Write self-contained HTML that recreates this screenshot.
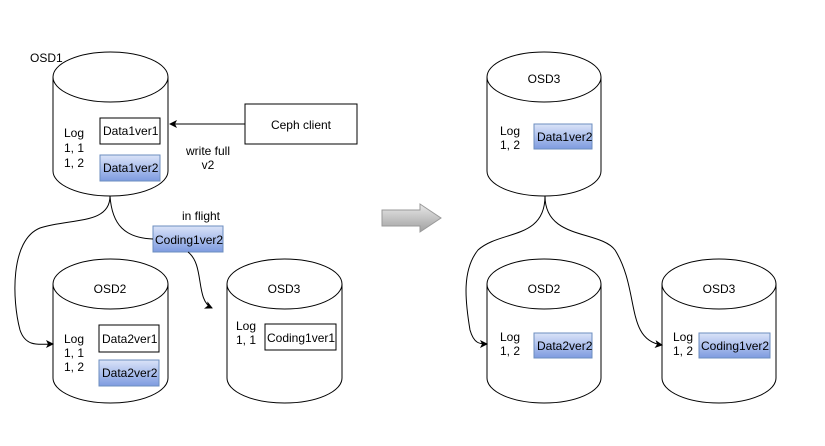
<!DOCTYPE html>
<html><head><style>body{margin:0;background:#fff}svg{display:block}text{font-family:"Liberation Sans",sans-serif;font-size:12px;fill:#000}</style></head><body>
<svg width="825" height="446" xmlns="http://www.w3.org/2000/svg">
<defs>
<linearGradient id="g" x1="0" y1="0" x2="0" y2="1"><stop offset="0" stop-color="#dae3f8"/><stop offset="1" stop-color="#7e9be0"/></linearGradient>
<marker id="a" markerWidth="8" markerHeight="8" refX="7" refY="4" orient="auto" markerUnits="userSpaceOnUse"><path d="M0,0 L8,4 L0,8 L2,4 Z" fill="#000"/></marker>
<linearGradient id="ga" x1="0" y1="0" x2="0" y2="1"><stop offset="0" stop-color="#e8e8e8"/><stop offset="1" stop-color="#a0a0a0"/></linearGradient>
</defs>
<g fill="#fff" stroke="#000" stroke-width="1">
<!-- cylinders: x, top, w, h -->
<path d="M53,77 a57.5,25 0 0 1 115,0 v94 a57.5,25 0 0 1 -115,0 Z"/><path d="M53,77 a57.5,25 0 0 0 115,0" fill="none"/>
<path d="M53,284 a57.5,25 0 0 1 115,0 v94 a57.5,25 0 0 1 -115,0 Z"/><path d="M53,284 a57.5,25 0 0 0 115,0" fill="none"/>
<path d="M227,284 a57.5,25 0 0 1 115,0 v94 a57.5,25 0 0 1 -115,0 Z"/><path d="M227,284 a57.5,25 0 0 0 115,0" fill="none"/>
<path d="M487,77 a57,25 0 0 1 114,0 v94 a57,25 0 0 1 -114,0 Z"/><path d="M487,77 a57,25 0 0 0 114,0" fill="none"/>
<path d="M487,284 a57,25 0 0 1 114,0 v94 a57,25 0 0 1 -114,0 Z"/><path d="M487,284 a57,25 0 0 0 114,0" fill="none"/>
<path d="M662,284 a57,25 0 0 1 114,0 v94 a57,25 0 0 1 -114,0 Z"/><path d="M662,284 a57,25 0 0 0 114,0" fill="none"/>
<rect x="245" y="104" width="112" height="40"/>
<rect x="100" y="118" width="60" height="26"/>
<rect x="99" y="325" width="60" height="27"/>
<rect x="265" y="324" width="71" height="26"/>
</g>
<g fill="url(#g)" stroke="#6c8ebf">
<rect x="100" y="155" width="60" height="26"/>
<rect x="153" y="226" width="70" height="26"/>
<rect x="99" y="360" width="60" height="26"/>
<rect x="534" y="124" width="58" height="25"/>
<rect x="534" y="333" width="58" height="25"/>
<rect x="699" y="333" width="71" height="25"/>
</g>
<g fill="none" stroke="#000">
<path d="M245,124 H170" marker-end="url(#a)"/>
<path d="M110,196 C110,225 70,218 40,228 C10,240 12,300 20,330 C26,348 40,344 53,344" marker-end="url(#a)"/>
<path d="M110,196 C112,225 125,238 153,239"/>
<path d="M188,252 C205,265 195,300 212,308" marker-end="url(#a)"/>
<path d="M545,196 C545,240 500,230 478,250 C462,270 465,300 470,330 C474,344 480,344 487,344" marker-end="url(#a)"/>
<path d="M545,196 C545,240 600,230 615,250 C640,290 625,340 662,345" marker-end="url(#a)"/>
</g>
<path d="M382,210 H420 V204 L441,218 L420,232 V226 H382 Z" fill="url(#ga)" stroke="#999"/>
<text x="30" y="62">OSD1</text>
<text x="64" y="137">Log</text><text x="64" y="152">1, 1</text><text x="64" y="167">1, 2</text>
<text x="103" y="135">Data1ver1</text><text x="103" y="172">Data1ver2</text>
<text x="301" y="129" text-anchor="middle">Ceph client</text>
<text x="208" y="155" text-anchor="middle">write full</text><text x="208" y="169" text-anchor="middle">v2</text>
<text x="201" y="220" text-anchor="middle">in flight</text>
<text x="155" y="244">Coding1ver2</text>
<text x="110" y="293" text-anchor="middle">OSD2</text>
<text x="64" y="343">Log</text><text x="64" y="357">1, 1</text><text x="64" y="371">1, 2</text>
<text x="102" y="343">Data2ver1</text><text x="102" y="377">Data2ver2</text>
<text x="284" y="293" text-anchor="middle">OSD3</text>
<text x="236" y="330">Log</text><text x="236" y="344">1, 1</text>
<text x="267" y="342">Coding1ver1</text>
<text x="544" y="83" text-anchor="middle">OSD3</text>
<text x="500" y="135">Log</text><text x="500" y="149">1, 2</text>
<text x="537" y="141">Data1ver2</text>
<text x="544" y="293" text-anchor="middle">OSD2</text>
<text x="500" y="341">Log</text><text x="500" y="355">1, 2</text>
<text x="537" y="350">Data2ver2</text>
<text x="719" y="293" text-anchor="middle">OSD3</text>
<text x="673" y="341">Log</text><text x="673" y="355">1, 2</text>
<text x="701" y="350">Coding1ver2</text>
</svg>
</body></html>
